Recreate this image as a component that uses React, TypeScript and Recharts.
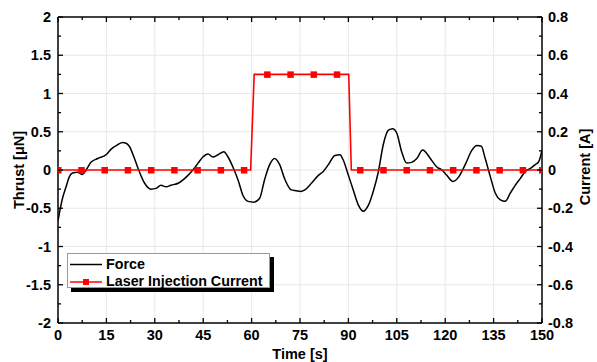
import React from 'react'
import { LineChart, Line, XAxis, YAxis, CartesianGrid, Label } from 'recharts'

// Force (thrust) trace
const forceTime = [
  0, 1.4, 2.5, 3.5, 4.5, 6.1, 7.6, 8.7, 10.2, 12.3, 14.9, 16.4, 18.5, 20, 21.1, 22.1, 23.7, 25.2, 26.8,
  28.8, 30.4, 31.9, 33.5, 35, 37.4, 39.8, 41.8, 43.4, 44.9, 46.5, 48, 49.6, 51.4, 52.7, 54.2, 55.8, 57.3,
  58.9, 60.7, 62.5, 64, 65.6, 67.1, 68.7, 70.2, 72.3, 73.8, 75.2, 76.5, 78.6, 80.7, 82.2, 83.8, 85.8,
  87.4, 88.4, 90, 91.5, 93.1, 94.6, 96.2, 97.7, 99.3, 100.8, 102.4, 103.7, 105, 106.5, 108.1, 109.6,
  111.2, 113, 113.8, 115.4, 117.4, 119, 120.5, 122.4, 124.2, 126.2, 128.3, 129.8, 131.2, 132.4, 134,
  135.5, 137.1, 138.6, 140.2, 141.7, 143.3, 144.8, 146.4, 147.9, 149, 150,
]
const forceThrust = [
  -0.66, -0.37, -0.22, -0.09, -0.04, -0.03, -0.06, 0, 0.1, 0.15, 0.2, 0.27, 0.33, 0.36, 0.35, 0.31, 0.15,
  -0.02, -0.17, -0.25, -0.24, -0.2, -0.22, -0.2, -0.17, -0.09, 0, 0.09, 0.17, 0.21, 0.17, 0.2, 0.24, 0.17,
  0.04, -0.13, -0.33, -0.41, -0.42, -0.37, -0.13, 0.07, 0.15, 0.07, -0.11, -0.26, -0.27, -0.28, -0.26,
  -0.17, -0.07, -0.02, 0.07, 0.19, 0.2, 0.13, -0.07, -0.26, -0.46, -0.54, -0.46, -0.28, -0.02, 0.33,
  0.52, 0.54, 0.48, 0.24, 0.09, 0.1, 0.15, 0.26, 0.24, 0.15, 0.04, 0, -0.07, -0.15, -0.09, 0.07, 0.26,
  0.32, 0.31, 0.15, -0.09, -0.3, -0.39, -0.41, -0.3, -0.2, -0.11, -0.02, 0.02, 0.07, 0.11, 0.26,
]

// Laser injection current (A); marker flags where a square is drawn
const currentTime = [
  0, 7.2, 14.4, 21.6, 28.8, 36, 43.2, 50.4, 57.6, 59.7, 60.8, 64.8, 72, 79.2, 86.4, 90.1, 90.9, 93.6,
  100.8, 108, 115.2, 122.4, 129.6, 136.8, 144, 150,
]
const currentAmp = [
  0, 0, 0, 0, 0, 0, 0, 0, 0, 0, 0.5, 0.5, 0.5, 0.5, 0.5, 0.5, 0, 0, 0, 0, 0, 0, 0, 0, 0, 0,
]
const currentMarker = [
  1, 1, 1, 1, 1, 1, 1, 1, 1, 0, 0, 1, 1, 1, 1, 0, 0, 1, 1, 1, 1, 1, 1, 1, 1, 1,
]

const xMajor = [0, 15, 30, 45, 60, 75, 90, 105, 120, 135, 150]
const xMinor = [7.5, 22.5, 37.5, 52.5, 67.5, 82.5, 97.5, 112.5, 127.5, 142.5]
const leftMajor = [-2, -1.5, -1, -0.5, 0, 0.5, 1, 1.5, 2]
const leftMinor = [-1.75, -1.25, -0.75, -0.25, 0.25, 0.75, 1.25, 1.75]
const rightMajor = [-0.8, -0.6, -0.4, -0.2, 0, 0.2, 0.4, 0.6, 0.8]
const rightMinor = [-0.7, -0.5, -0.3, -0.1, 0.1, 0.3, 0.5, 0.7]

const forceData = forceTime.map((t, i) => ({ t, thrust: forceThrust[i] }))
const currentData = currentTime.map((t, i) => ({ t, amp: currentAmp[i], m: currentMarker[i] === 1 }))

const FONT = '"Liberation Sans", Arial, sans-serif'
const sortNum = (a: number[]) => [...a].sort((p, q) => p - q)

function makeTick(side: 'bottom' | 'top' | 'left' | 'right', majors: number[]) {
  return (props: any) => {
    const { x, y, payload } = props
    const v = payload.value
    const major = majors.includes(v)
    const len = major ? 5 : 3
    const txt = major ? String(v) : ''
    const textProps = { fontFamily: FONT, fontSize: 14.5, fontWeight: 700, fill: '#000' }
    if (side === 'bottom')
      return (
        <g>
          <line x1={x} y1={y} x2={x} y2={y - len} stroke="#000" strokeWidth={1.3} />
          <text x={x} y={y + 17} textAnchor="middle" {...textProps}>{txt}</text>
        </g>
      )
    if (side === 'top')
      return <line x1={x} y1={y} x2={x} y2={y + len} stroke="#000" strokeWidth={1.3} />
    if (side === 'left')
      return (
        <g>
          <line x1={x} y1={y} x2={x + len} y2={y} stroke="#000" strokeWidth={1.3} />
          <text x={x - 7} y={y + 5} textAnchor="end" {...textProps}>{txt}</text>
        </g>
      )
    return (
      <g>
        <line x1={x} y1={y} x2={x - len} y2={y} stroke="#000" strokeWidth={1.3} />
        <text x={x + 6} y={y + 5} textAnchor="start" {...textProps}>{txt}</text>
      </g>
    )
  }
}

const titleStyle = { fontFamily: FONT, fontSize: 14.5, fontWeight: 700, fill: '#000' }

function SquareDot(props: any) {
  const { cx, cy, payload, index } = props
  if (!payload?.m) return <g key={`d${index}`} />
  return <rect key={`d${index}`} x={cx - 3} y={cy - 3} width={6.5} height={6.5} fill="#ff0000" />
}

function LegendBox() {
  return (
    <div
      style={{
        position: 'absolute',
        left: 67,
        top: 253,
        width: 203,
        height: 35,
        background: '#fff',
        border: '1px solid #999',
        boxShadow: '4px 4px 0 #000',
        fontFamily: FONT,
        fontSize: 14.3,
        fontWeight: 700,
        boxSizing: 'border-box',
      }}
    >
      <svg width={40} height={34} style={{ position: 'absolute', left: 0, top: 0 }}>
        <line x1={2} y1={10.5} x2={34} y2={10.5} stroke="#000" strokeWidth={1.5} />
        <line x1={2} y1={28} x2={34} y2={28} stroke="#ff0000" strokeWidth={1.5} />
        <rect x={15} y={25} width={6} height={6} fill="#ff0000" />
      </svg>
      <div style={{ position: 'absolute', left: 38, top: 2, lineHeight: '17px' }}>Force</div>
      <div style={{ position: 'absolute', left: 38, top: 19, lineHeight: '17px', whiteSpace: 'nowrap' }}>
        Laser Injection Current
      </div>
    </div>
  )
}

export default function App() {
  return (
    <div style={{ position: 'absolute', left: 0, top: 0, width: 597, height: 362, background: '#fff' }}>
      <LineChart width={597} height={362} margin={{ top: 0, right: 0, bottom: 0, left: 0 }}>
        <CartesianGrid
          xAxisId="bottom"
          yAxisId="left"
          stroke="#e8e8e8"
          strokeWidth={1}
          verticalValues={xMajor.slice(1, -1)}
          horizontalValues={leftMajor.slice(1, -1)}
        />
        <XAxis
          xAxisId="bottom"
          dataKey="t"
          type="number"
          domain={[0, 150]}
          ticks={sortNum([...xMajor, ...xMinor])}
          interval={0}
          height={39}
          tickSize={0}
          tickMargin={0}
          tickLine={false}
          axisLine={{ stroke: '#000', strokeWidth: 1.5 }}
          tick={makeTick('bottom', xMajor)}
          allowDataOverflow
        >
          <Label
            content={(p: any) => {
              const vb = p.viewBox || { x: 58, y: 323, width: 484 }
              return (
                <text x={vb.x + vb.width / 2} y={vb.y + 36} textAnchor="middle" {...titleStyle}>
                  Time [s]
                </text>
              )
            }}
          />
        </XAxis>
        <XAxis
          xAxisId="top"
          orientation="top"
          dataKey="t"
          type="number"
          domain={[0, 150]}
          ticks={sortNum([...xMajor, ...xMinor])}
          interval={0}
          height={17}
          tickSize={0}
          tickMargin={0}
          tickLine={false}
          axisLine={{ stroke: '#000', strokeWidth: 1.5 }}
          tick={makeTick('top', xMajor)}
          allowDataOverflow
        />
        <YAxis
          yAxisId="left"
          type="number"
          domain={[-2, 2]}
          ticks={sortNum([...leftMajor, ...leftMinor])}
          interval={0}
          width={58}
          tickSize={0}
          tickMargin={0}
          tickLine={false}
          axisLine={{ stroke: '#000', strokeWidth: 1.5 }}
          tick={makeTick('left', leftMajor)}
          allowDataOverflow
        >
          <Label
            content={(p: any) => {
              const vb = p.viewBox || { x: 0, y: 17, height: 306 }
              const cx = vb.x + 19
              const cy = vb.y + vb.height / 2
              return (
                <text x={cx} y={cy} transform={`rotate(-90 ${cx} ${cy})`} textAnchor="middle" dominantBaseline="central" {...titleStyle}>
                  Thrust [μN]
                </text>
              )
            }}
          />
        </YAxis>
        <YAxis
          yAxisId="right"
          orientation="right"
          type="number"
          domain={[-0.8, 0.8]}
          ticks={sortNum([...rightMajor, ...rightMinor])}
          interval={0}
          width={55}
          tickSize={0}
          tickMargin={0}
          tickLine={false}
          axisLine={{ stroke: '#000', strokeWidth: 1.5 }}
          tick={makeTick('right', rightMajor)}
          allowDataOverflow
        >
          <Label
            content={(p: any) => {
              const vb = p.viewBox || { x: 542, y: 17, height: 306 }
              const cx = vb.x + 43
              const cy = vb.y + vb.height / 2 - 3
              return (
                <text x={cx} y={cy} transform={`rotate(-90 ${cx} ${cy})`} textAnchor="middle" dominantBaseline="central" {...titleStyle}>
                  Current [A]
                </text>
              )
            }}
          />
        </YAxis>
        <Line
          data={forceData}
          xAxisId="bottom"
          yAxisId="left"
          dataKey="thrust"
          type="monotone"
          stroke="#000"
          strokeWidth={1.5}
          dot={false}
          activeDot={false}
          isAnimationActive={false}
        />
        <Line
          data={currentData}
          xAxisId="bottom"
          yAxisId="right"
          dataKey="amp"
          type="linear"
          stroke="#ff0000"
          strokeWidth={1.6}
          dot={SquareDot}
          activeDot={false}
          isAnimationActive={false}
        />
      </LineChart>
      <LegendBox />
    </div>
  )
}
